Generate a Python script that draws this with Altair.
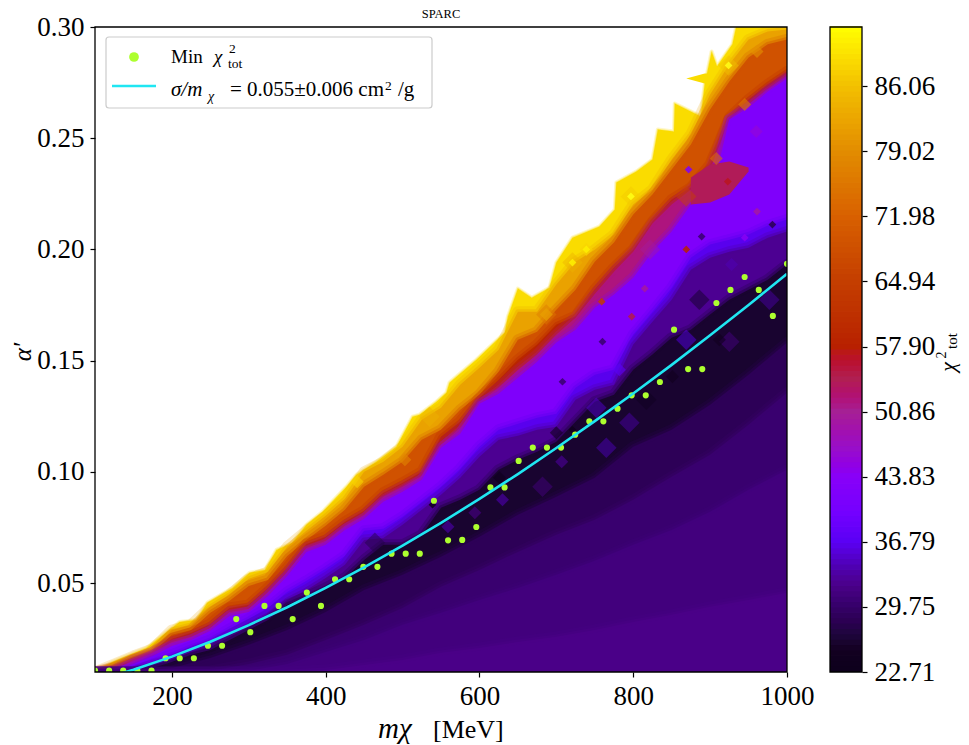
import altair as alt
import pandas as pd

FONT = "Liberation Serif"
# grid masses used by the contour band edges
M_FINE = [100,125,150,175,200,225,250,275,300,325,350,375,400,425,450,475,500,525,550,575,600,625,650,675,700,725,750,775,800,825,850,875,900,925,950,975,1000]
M_COARSE = [100,150,200,250,300,350,400,450,500,550,600,650,700,750,800,850,900,950,1000]

TOP_M = [100,123,167,210,232,246,279,301,321,336,357,375,396,427,440,466,492,513,522,544,557,561,596,633,637,650,668,691,700,721,756,776,778,804,825,832,853,854,888,893,896,902,909,929,934,940,1000]
TOP_A = [.01,.0145,.0208,.0325,.0334,.0411,.0478,.0546,.0559,.0649,.0681,.0762,.082,.0933,.0987,.1045,.1113,.1248,.1257,.1315,.1356,.1401,.1504,.1626,.1698,.1824,.1783,.1828,.1941,.2053,.2103,.2179,.2301,.235,.2404,.2539,.253,.2656,.2598,.2746,.2791,.289,.2823,.2922,.3003,.31,.31]
SPIKE_M = [869,893,896]
SPIKE_TOP = [.2769,.2791,.2791]
SPIKE_LOW = [.2769,.2746,.2746]

E_GOLD = [.01,.0136,.0172,.0204,.0289,.0312,.0393,.0447,.0519,.055,.0663,.0735,.0802,.0879,.1,.1045,.1113,.1234,.1288,.1392,.1468,.1549,.172,.172,.1842,.1945,.1999,.2067,.2202,.2269,.2404,.2517,.2697,.2832,.2944,.298,.2989]
E_ORNG = [.01,.0123,.0159,.0186,.0267,.0289,.0366,.042,.0487,.0514,.0622,.0694,.0757,.0829,.0933,.0987,.1045,.1144,.1189,.1279,.1347,.145,.1594,.163,.1729,.1819,.1945,.2031,.2157,.2247,.2359,.2472,.2629,.2755,.2863,.2922,.2944]
E_DORG = [.01,.0118,.0154,.0181,.0249,.0276,.0316,.0388,.0402,.0478,.0568,.0676,.0708,.0775,.0825,.0906,.0951,.1,.1158,.1225,.1333,.1414,.1504,.1572,.1662,.17,.182,.1918,.2,.2125,.2224,.2278,.2382,.2593,.2674,.2742,.28]
E_MAG = [.01,.0109,.0154,.019,.0235,.0258,.0298,.037,.0384,.046,.055,.0658,.069,.0757,.0807,.0888,.0933,.0982,.1122,.1198,.1315,.1378,.1459,.1527,.1617,.1693,.18,.19,.199,.2116,.2202,.2269,.2359,.2584,.2652,.2719,.2778]
E_VIO = [.01,.0105,.0136,.0172,.0217,.0244,.0285,.0352,.037,.0442,.0532,.064,.0672,.0739,.0789,.0865,.091,.0964,.1108,.1171,.1306,.1351,.1423,.1495,.1581,.1639,.1738,.1797,.1873,.199,.208,.2202,.2224,.2584,.2638,.271,.2769]
E_BLU = [.01,.01,.0114,.0150,.0177,.0213,.0244,.0294,.0339,.0389,.0460,.0510,.0564,.0622,.0735,.0744,.0798,.0865,.0933,.1014,.1113,.1189,.1216,.1243,.1261,.1378,.1437,.1459,.1617,.1720,.1828,.1963,.2022,.2044,.2067,.2107,.2134]
E_IND = [.01,.01,.0105,.0132,.0154,.019,.0222,.0267,.0312,.0357,.0424,.0469,.0523,.0582,.0694,.0703,.0762,.0829,.0897,.0973,.1068,.1144,.1162,.1189,.1203,.1324,.1369,.1392,.1572,.1675,.1774,.1909,.1963,.199,.2008,.2053,.208]
E_DIM = [.01,.01,.01,.0118,.0145,.0177,.0199,.0244,.0289,.0334,.0402,.0438,.0478,.0523,.0604,.0672,.0672,.0717,.0838,.0874,.0919,.1009,.1054,.109,.1135,.1225,.1315,.1347,.1459,.1527,.1603,.1639,.1707,.1774,.1819,.1864,.1932]

E_A = [.01,.01,.0118,.0163,.0222,.0289,.037,.0469,.0537,.0618,.0708,.0807,.0888,.0973,.1113,.1189,.1302,.1437,.1581]
E_B = [.01,.01,.01,.0105,.0136,.0177,.0244,.0312,.0388,.0483,.0559,.064,.0717,.0784,.0874,.0978,.1077,.1212,.1356]
E_C = [.01,.01,.01,.01,.0105,.0136,.019,.0244,.0312,.0366,.0424,.0478,.0537,.06,.0672,.0739,.082,.0919,.1009]
E_D = [.01,.01,.01,.01,.01,.01,.0109,.0132,.0154,.0186,.0208,.0235,.0258,.0289,.0325,.0357,.0393,.0424,.0456]

# band value painted below each edge
CHI_TOP, CHI_GOLD, CHI_ORNG, CHI_DORG, CHI_MAG, CHI_VIO, CHI_BLU, CHI_IND, CHI_DIM = 89, 82, 69, 59, 52, 42, 36.5, 32.5, 26
CHI_A, CHI_B, CHI_C, CHI_D = 28.5, 30.2, 31.2, 32

ISLE_M = [875,900,925,950]
ISLE_TOP = [.2323,.2382,.2395,.2368]
ISLE_LOW = [.2202,.2211,.2247,.235]
CHI_ISLE = 54

# local peaks and dips of the surface
PEAK_L_M = [924,797,721,687,535,869,869,765,752,795,682,925,977,817,886,464,822]
PEAK_L_A = [.2827,.2238,.1941,.1707,.1248,.2238,.1594,.1108,.1288,.1221,.0933,.1585,.1774,.1324,.1774,.0681,.2]
PEAK_L_C = [86,87,84,76,84,66,37,35,36,34,32,32,34,24,24,27,50]

PEAK_M_M = [739,687,441,961,945,908,960,928,503,630,594,559,707,782,626,700,851,912]
PEAK_M_A = [.2,.1707,.0955,.289,.2652,.2409,.253,.1932,.1054,.0874,.0816,.0753,.1045,.1459,.0973,.1176,.1428,.1594]
PEAK_M_C = [88,82,88,80,76,74,46,34,78,34,32,34,33,37,23,24,24,24]

PEAK_S_M = [924,797,721,739,869,759,961,815,798,923,872,889,981,760,708,945,721,539]
PEAK_S_A = [.2827,.2238,.1941,.2,.2,.1765,.217,.1824,.1698,.2305,.2359,.2058,.2112,.1585,.1405,.2053,.1189,.0852]
PEAK_S_C = [95.5,95,91,91,58,64,50,50,55,57,42,30,28,30,30,44,24,24]

DOT_M = [100,118.4,136.7,155.1,173.5,191.8,210.2,228.6,246.9,265.3,283.7,302,320.4,338.8,357.1,375.5,393.9,412.2,430.6,449,467.3,485.7,504.1,522.4,540.8,559.2,577.6,595.9,614.3,632.7,651,669.4,687.8,706.1,724.5,742.9,761.2,779.6,798,816.3,834.7,853.1,871.4,889.8,908.2,926.5,944.9,963.3,981.6,1000]
DOT_A = [.0106,.0106,.0106,.0106,.0106,.0162,.0162,.0162,.0218,.0218,.0338,.0279,.0397,.0397,.0338,.0457,.0397,.0517,.0517,.0573,.0573,.0632,.0632,.0632,.087,.0692,.0694,.0752,.093,.093,.1049,.1109,.1109,.1109,.1167,.1227,.1227,.1284,.1344,.1344,.1404,.1639,.1462,.1462,.1759,.1818,.1876,.1818,.1701,.1935]

CURVE_M = [100,150,200,250,300,350,400,450,500,550,600,650,700,750,800,850,900,950,1000]
CURVE_A = [.0060,.0110,.0169,.0236,.0311,.0391,.0478,.0570,.0668,.0771,.0878,.0990,.1107,.1228,.1352,.1481,.1614,.1750,.1890]

CMAP_CHI = [22.71,25,28,30,32,34,36.79,40,43.83,47,50.86,54.5,57.9,64.94,71.98,79.02,86.06,92.45,96]
CMAP_HEX = ["#000000","#120020","#2a0050","#37006c","#4a0088","#4e00b0","#5a00f5","#7400ff","#8800f8","#9810c8","#a52095","#b02050","#b82000","#c43e00","#d86000","#e28c00","#f2c000","#ffff00","#ffffff"]
CBAR_TICKS = [22.71,29.75,36.79,43.83,50.86,57.90,64.94,71.98,79.02,86.06]
X_TICKS = [200,400,600,800,1000]
Y_TICKS = [0.05,0.10,0.15,0.20,0.25,0.30]
CBAR_STEPS = 120

W, H = 692, 645
BAR_L, BAR_R = 735, 767
C_SCALE = alt.Scale(domain=CMAP_CHI, range=CMAP_HEX)
AX = dict(title=None, grid=False, tickSize=5, tickColor="black", tickWidth=1.2, domain=False,
          labelFont=FONT, labelFontSize=27, labelColor="black", labelFlush=False, labelOverlap=False)
X = alt.X("m:Q", scale=alt.Scale(domain=[100,1000], nice=False, zero=False),
          axis=alt.Axis(values=X_TICKS, format="d", labelPadding=6, **AX))
Y = alt.Y("a:Q", scale=alt.Scale(domain=[0.01,0.30], nice=False, zero=False),
          axis=alt.Axis(values=Y_TICKS, format=".2f", labelPadding=6, **AX))
COL = alt.Color("chi:Q", scale=C_SCALE, legend=None)
STK = alt.Stroke("chi:Q", scale=C_SCALE, legend=None)

def band(m, a, chi, halo=11):
    df = pd.DataFrame({"m": m, "a": a, "base": 0.01, "chi": chi})
    base = alt.Chart(df)
    wide = base.mark_area(clip=True, interpolate="linear", fillOpacity=0, strokeWidth=halo, strokeOpacity=0.22, strokeJoin="round").encode(
        x=X, y=Y, y2="base:Q", stroke=STK)
    body = base.mark_area(clip=True, interpolate="linear", strokeWidth=halo * 0.45, strokeOpacity=0.4, strokeJoin="round").encode(
        x=X, y=Y, y2="base:Q", color=COL, stroke=STK)
    return [wide, body]

def island(m, top, low, chi):
    df = pd.DataFrame({"m": m, "a": top, "base": low, "chi": chi})
    return [alt.Chart(df).mark_area(clip=True, interpolate="linear").encode(x=X, y=Y, y2="base:Q", color=COL)]

def peaks(m, a, c, size, op):
    df = pd.DataFrame({"m": m, "a": a, "chi": c})
    return [alt.Chart(df).mark_point(shape="diamond", filled=True, size=size, opacity=op, strokeWidth=0, clip=True).encode(
        x=X, y=Y, color=COL)]

ONE = pd.DataFrame({"k": [0]})
def label(txt, x, y, size, style="normal", angle=0, align="left", color="black"):
    return alt.Chart(ONE).mark_text(font=FONT, fontSize=size, fontStyle=style, align=align, baseline="alphabetic",
                                    angle=angle, color=color).encode(
        x=alt.value(x), y=alt.value(y), text=alt.value(txt))

layers = (
    band(TOP_M, TOP_A, CHI_TOP, halo=4)
    + island(SPIKE_M, SPIKE_TOP, SPIKE_LOW, CHI_TOP)
    + band(M_FINE, E_GOLD, CHI_GOLD)
    + band(M_FINE, E_ORNG, CHI_ORNG)
    + band(M_FINE, E_DORG, CHI_DORG)
    + band(M_FINE, E_MAG, CHI_MAG)
    + band(M_FINE, E_VIO, CHI_VIO)
    + island(ISLE_M, ISLE_TOP, ISLE_LOW, CHI_ISLE)
    + band(M_FINE, E_BLU, CHI_BLU)
    + band(M_FINE, E_IND, CHI_IND)
    + band(M_FINE, E_DIM, CHI_DIM)
    + band(M_COARSE, E_A, CHI_A)
    + band(M_COARSE, E_B, CHI_B)
    + band(M_COARSE, E_C, CHI_C)
    + band(M_COARSE, E_D, CHI_D)
    + peaks(PEAK_L_M, PEAK_L_A, PEAK_L_C, 420, 0.45)
    + peaks(PEAK_M_M, PEAK_M_A, PEAK_M_C, 170, 0.6)
    + peaks(PEAK_S_M, PEAK_S_A, PEAK_S_C, 60, 0.85)
)

dots = alt.Chart(pd.DataFrame({"m": DOT_M, "a": DOT_A})).mark_circle(color="#adff2f", size=38, opacity=1, clip=True).encode(x=X, y=Y)
curve = alt.Chart(pd.DataFrame({"m": CURVE_M, "a": CURVE_A})).mark_line(color="#20e6f2", strokeWidth=2.6, clip=True).encode(x=X, y=Y)

frame = alt.Chart(ONE).mark_rect(fillOpacity=0, stroke="black", strokeWidth=1.3).encode(
    x=alt.value(0), x2=alt.value(W), y=alt.value(0), y2=alt.value(H))
lg_box = alt.Chart(ONE).mark_rect(fill="white", fillOpacity=0.85, stroke="#cccccc", strokeWidth=1.2, cornerRadius=3).encode(
    x=alt.value(11), x2=alt.value(337), y=alt.value(10), y2=alt.value(81))
lg_dot = alt.Chart(ONE).mark_circle(color="#adff2f", size=95, opacity=1).encode(x=alt.value(39), y=alt.value(30))
lg_line = alt.Chart(ONE).mark_rule(color="#20e6f2", strokeWidth=2.6).encode(
    x=alt.value(17), x2=alt.value(61), y=alt.value(59))

texts = [
    label("Min", 76, 36, 19), label("χ", 119, 36, 19, "italic"),
    label("2", 134, 26, 13.5), label("tot", 133, 41, 13.5),
    label("σ/m", 76, 69, 21, "italic"), label("χ", 113, 74, 14, "italic"),
    label("= 0.055±0.006 cm", 135, 69, 21), label("2", 290, 63, 13.5), label("/g", 303, 69, 21),
    label("mχ", 283, 711, 29, "italic"), label("[MeV]", 338, 711, 26),
    label("α′", -64, 325, 25, "italic", angle=270, align="center"),
    label("SPARC", 346, -9, 12.5, align="center"),
]

main = alt.layer(*layers, dots, curve, lg_box, lg_dot, lg_line, *texts, frame)

step = (CMAP_CHI[-2] - CMAP_CHI[0]) / CBAR_STEPS
bar_df = pd.DataFrame({"lo": [CMAP_CHI[0] + k*step for k in range(CBAR_STEPS)]})
bar_df["hi"] = bar_df["lo"] + step * 1.15
bar_df["chi"] = bar_df["lo"] + step / 2
BY = alt.Y("lo:Q", scale=alt.Scale(domain=[CMAP_CHI[0], CMAP_CHI[-2]], nice=False, zero=False),
           axis=alt.Axis(values=CBAR_TICKS, format=".2f", orient="right", offset=BAR_R - W, labelPadding=7, **AX))
strips = alt.Chart(bar_df).mark_rect(strokeWidth=0).encode(
    y=BY, y2="hi:Q", x=alt.value(BAR_L), x2=alt.value(BAR_R), color=COL)
bar_frame = alt.Chart(ONE).mark_rect(fillOpacity=0, stroke="black", strokeWidth=1.3).encode(
    x=alt.value(BAR_L), x2=alt.value(BAR_R), y=alt.value(0), y2=alt.value(H))
bar_title = [
    label("χ", 860, 340, 22, "italic", angle=270, align="center"),
    label("2", 851, 328, 14, angle=270, align="center"),
    label("tot", 862, 314, 15, angle=270, align="center"),
]
cbar = alt.layer(strips, bar_frame, *bar_title)

chart = alt.layer(main, cbar).resolve_scale(y="independent").properties(
    width=W, height=H, background="white",
    autosize=alt.AutoSizeParams(type="none"),
    padding={"left": 87, "top": 19, "right": 174, "bottom": 77},
).configure_view(stroke=None)
chart.save("out.html", embed_options={"renderer": "svg", "actions": False})
